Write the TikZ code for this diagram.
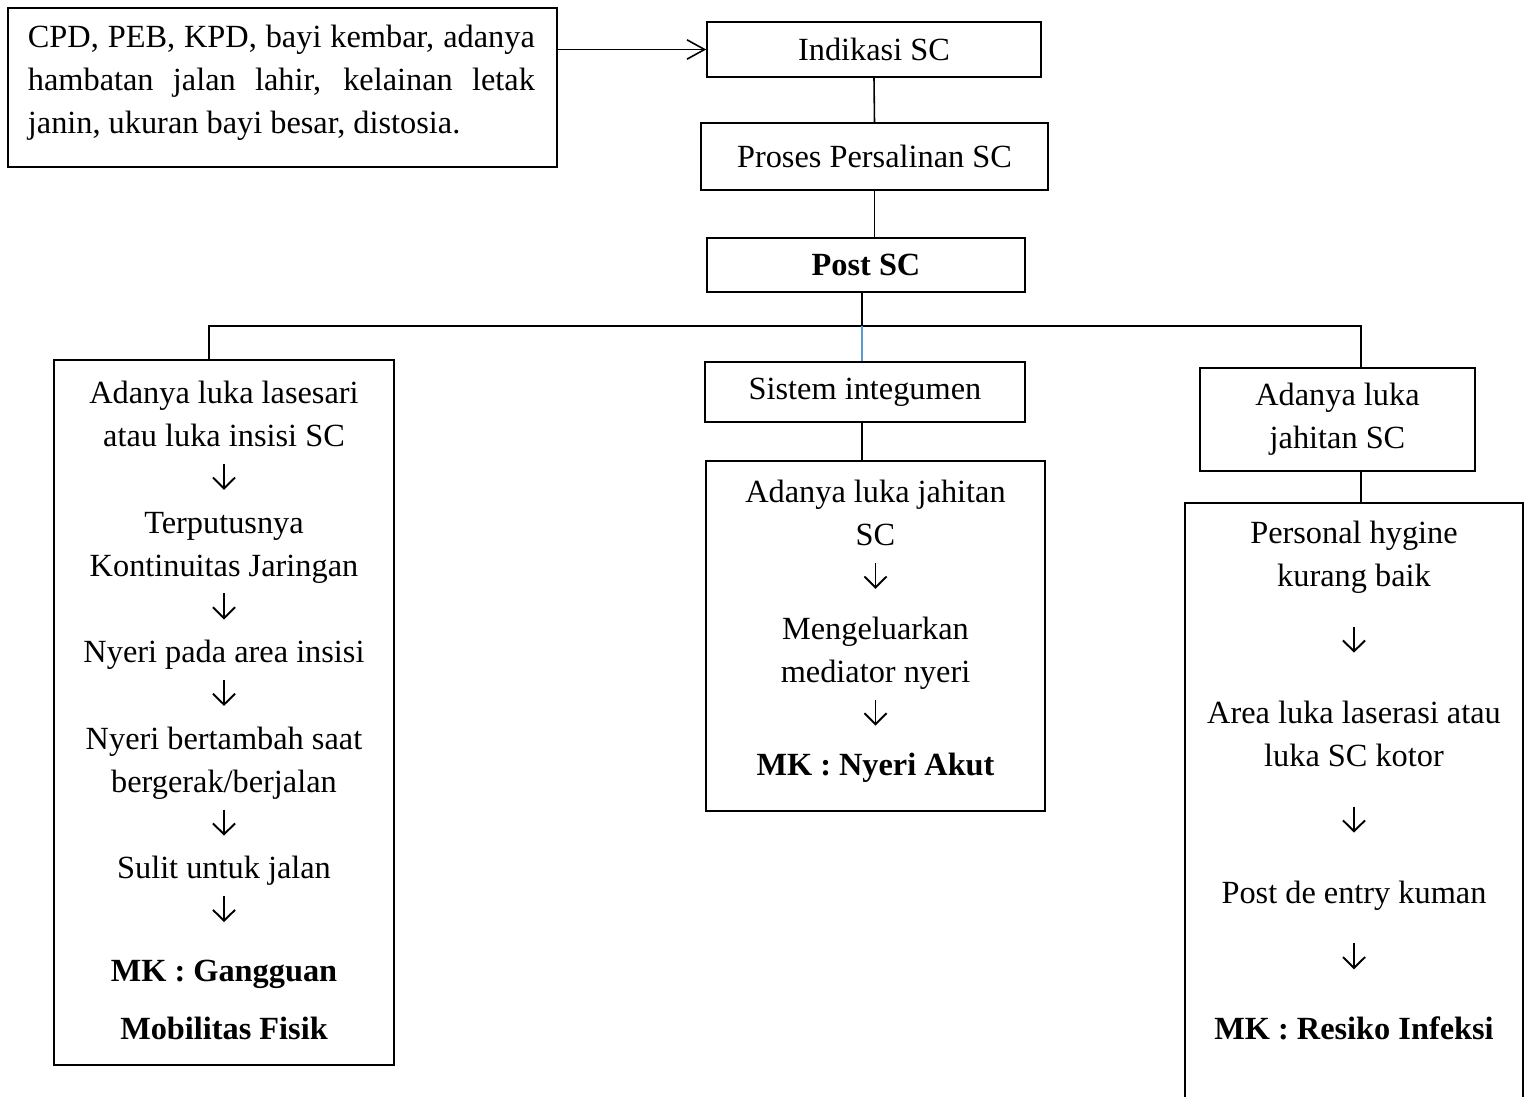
\documentclass[tikz,border=0pt]{standalone}
\usepackage{fontspec}
\setmainfont{Liberation Serif}
\usepackage{tikz}
\usepackage{xcolor}
\definecolor{lineBlue}{HTML}{5B9BD5}
\usetikzlibrary{arrows.meta,positioning}

\newcommand{\diafont}{\fontsize{9.2}{12.3}\selectfont}
\newcommand{\panah}{\tikz[baseline=0pt]{\draw[line width=0.55pt, -{Straight Barb[length=3.1pt,width=6.3pt]}] (0cm,0.26cm) -- (0cm,0cm);}}
\tikzset{
  box/.style={draw, line width=0.45pt, inner sep=0pt, font=\diafont},
  boxtext/.style={inner sep=0pt, align=center, anchor=north, font=\diafont},
  link/.style={line width=0.45pt},
}

\begin{document}
\begin{tikzpicture}
  \useasboundingbox (0cm,0cm) rectangle (15.26cm,-10.97cm);
  \clip (0cm,0cm) rectangle (15.26cm,-10.97cm);

  % top row
  \node[box, minimum width=5.49cm, minimum height=1.59cm] (sebab) at (2.825cm,-0.875cm) {};
  \node[boxtext, anchor=north west, align=left] (sebabtxt) at ([xshift=0.2cm,yshift=-0.17cm]sebab.north west)
    {\makebox[5.07cm][s]{CPD, PEB, KPD, bayi kembar, adanya}\\
     \makebox[5.07cm][s]{hambatan jalan lahir, kelainan letak}\\
     janin, ukuran bayi besar, distosia.};
  \node[box, minimum width=3.34cm, minimum height=0.55cm] (indikasi) at (8.74cm,-0.495cm) {Indikasi SC};
  \node[box, minimum width=3.47cm, minimum height=0.67cm] (proses) at (8.745cm,-1.565cm) {Proses Persalinan SC};
  \node[box, minimum width=3.18cm, minimum height=0.54cm] (post) at (8.66cm,-2.65cm) {\textbf{Post SC}};

  \coordinate (cabang) at (8.62cm,-3.26cm);
  \coordinate (cabangkiri) at (2.09cm,-3.26cm);
  \coordinate (cabangkanan) at (13.61cm,-3.26cm);

  % left branch
  \node[box, minimum width=3.40cm, minimum height=7.05cm] (gerak) at (2.24cm,-7.125cm) {};
  \node[boxtext] (geraktxt) at ([yshift=-0.21cm]gerak.north)
    {Adanya luka lasesari\\atau luka insisi SC\\\panah\\Terputusnya\\Kontinuitas Jaringan\\\panah\\
     Nyeri pada area insisi\\\panah\\Nyeri bertambah saat\\bergerak/berjalan\\\panah\\Sulit untuk jalan\\\panah\\[4.6pt]
     \textbf{MK : Gangguan}\\[4.2pt]\textbf{Mobilitas Fisik}};

  % middle branch
  \node[box, minimum width=3.20cm, minimum height=0.60cm] (integumen) at (8.65cm,-3.92cm) {Sistem integumen};
  \node[box, minimum width=3.39cm, minimum height=3.50cm] (nyeri) at (8.755cm,-6.36cm) {};
  \node[boxtext] (nyeritxt) at ([yshift=-0.19cm]nyeri.north)
    {Adanya luka jahitan\\SC\\\panah\\[2pt]Mengeluarkan\\mediator nyeri\\\panah\\[2pt]\textbf{MK : Nyeri Akut}};

  % right branch
  \node[box, align=center, minimum width=2.75cm, minimum height=1.03cm] (luka) at (13.375cm,-4.195cm) {Adanya luka\\jahitan SC};
  \node[box, minimum width=3.38cm, minimum height=6.17cm] (infeksi) at (13.54cm,-8.115cm) {};
  \node[boxtext] (infeksitxt) at ([yshift=-0.18cm]infeksi.north)
    {Personal hygine\\kurang baik\\[6.5pt]\panah\\[7.8pt]Area luka laserasi atau\\luka SC kotor\\[6.5pt]\panah\\[7.8pt]
     Post de entry kuman\\[6.5pt]\panah\\[7.8pt]\textbf{MK : Resiko Infeksi}};

  % connectors
  \draw[link, -{Straight Barb[length=5pt,width=5.5pt]}] (sebab.east |- indikasi.west) -- (indikasi.west);
  \draw[link] (indikasi.south) -- (proses.north);
  \draw[link] (proses.south) -- (proses.south |- post.north);
  \draw[link] (cabang |- post.south) -- (cabang);
  \draw[link] (cabangkiri |- gerak.north) -- (cabangkiri) -- (cabangkanan) -- (cabangkanan |- luka.north);
  \draw[link, lineBlue] (cabang) -- (cabang |- integumen.north);
  \draw[link] (cabang |- integumen.south) -- (cabang |- nyeri.north);
  \draw[link] (cabangkanan |- luka.south) -- (cabangkanan |- infeksi.north);
\end{tikzpicture}
\end{document}
